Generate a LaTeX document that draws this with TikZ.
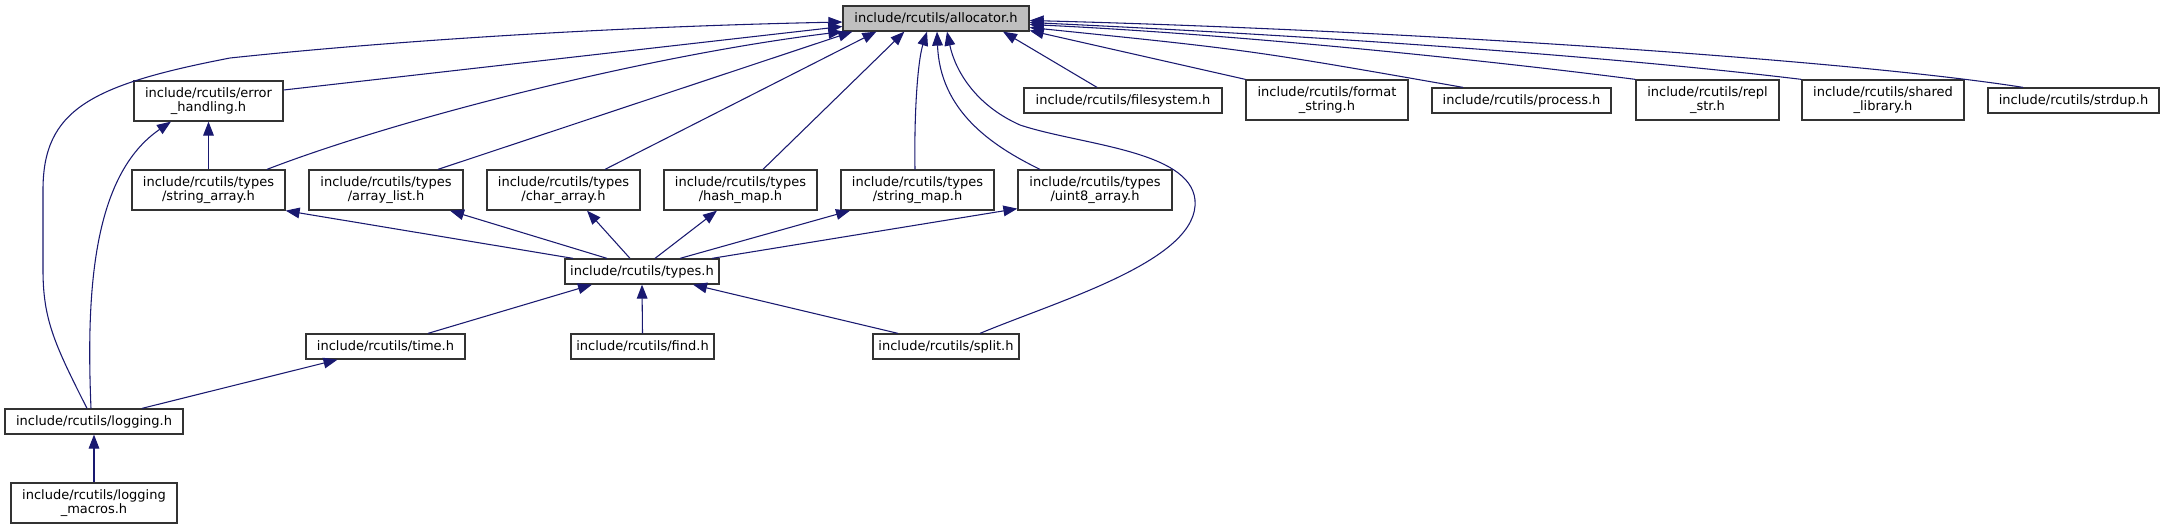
\documentclass[tikz,border=0pt]{standalone}
\usepackage{fontspec}
\newfontfamily\dvsans{DejaVu Sans}
\usetikzlibrary{arrows.meta,calc}
\definecolor{edgec}{HTML}{191970}
\definecolor{boxc}{HTML}{333333}
\definecolor{fillc}{HTML}{BFBFBF}
\begin{document}
\begin{tikzpicture}[x=0.75pt,y=-0.75pt,
  box/.style={draw=boxc,line width=0.95pt,inner sep=0pt,fill=white,
    font=\dvsans\fontsize{9.75}{10.5}\selectfont,align=center,
    minimum height=18.75pt,anchor=center},
  tall/.style={minimum height=30pt},
  edge/.style={draw=edgec,line width=0.8pt,-{Triangle[length=10.5pt,width=8pt]}}]
\fill[white] (0,0) rectangle (2165,529);
\useasboundingbox (0,0) rectangle (2165,529);
% nodes
\node[box,fill=fillc,minimum width=139.5pt] (alloc) at (936,18.5) {include/rcutils/allocator.h};
\node[box,tall,minimum width=111.75pt] (errh) at (208.5,101) {include/rcutils/error\\\_handling.h};
\node[box,tall,minimum width=114.75pt] (strarr) at (208.5,190) {include/rcutils/types\\/string\_array.h};
\node[box,tall,minimum width=115.5pt] (arrlist) at (386,190) {include/rcutils/types\\/array\_list.h};
\node[box,tall,minimum width=114.75pt] (chararr) at (563.5,190) {include/rcutils/types\\/char\_array.h};
\node[box,tall,minimum width=114.75pt] (hashmap) at (740.5,190) {include/rcutils/types\\/hash\_map.h};
\node[box,tall,minimum width=114.75pt] (strmap) at (917.5,190) {include/rcutils/types\\/string\_map.h};
\node[box,tall,minimum width=115.5pt] (uint8) at (1095,190) {include/rcutils/types\\/uint8\_array.h};
\node[box,minimum width=148.5pt] (fs) at (1123,100.5) {include/rcutils/filesystem.h};
\node[box,tall,minimum width=121.5pt] (fmt) at (1327,100) {include/rcutils/format\\\_string.h};
\node[box,minimum width=134.25pt] (proc) at (1521.5,100.5) {include/rcutils/process.h};
\node[box,tall,minimum width=107.25pt] (repl) at (1707.5,100) {include/rcutils/repl\\\_str.h};
\node[box,tall,minimum width=121.5pt] (shlib) at (1883,100) {include/rcutils/shared\\\_library.h};
\node[box,minimum width=128.25pt] (strdup) at (2073.5,100.5) {include/rcutils/strdup.h};
\node[box,minimum width=115.5pt] (types) at (642,271.5) {include/rcutils/types.h};
\node[box,minimum width=119.25pt] (time) at (385.5,346.5) {include/rcutils/time.h};
\node[box,minimum width=107.25pt] (find) at (642.5,346.5) {include/rcutils/find.h};
\node[box,minimum width=109.5pt] (split) at (946,346.5) {include/rcutils/split.h};
\node[box,minimum width=133.5pt] (logging) at (94,421.5) {include/rcutils/logging.h};
\node[box,tall,minimum width=124.5pt] (logmac) at (94,503) {include/rcutils/logging\\\_macros.h};
% edges
\draw[edge] (logmac.north) -- (logging.south);
\draw[edge] ($(logging.north)+(48,0)$) -- ($(time.south)+(-48,0)$);
\draw[edge] ($(time.north)+(42.5,0)$) -- ($(types.south)+(-50,0)$);
\draw[edge] (find.north) -- (types.south);
\draw[edge] ($(split.north)+(-48,0)$) -- ($(types.south)+(51,0)$);
\draw[edge] ($(types.north)+(-69,0)$) -- (strarr.south east);
\draw[edge] ($(types.north)+(-35,0)$) -- ($(arrlist.south)+(64,0)$);
\draw[edge] ($(types.north)+(-12,0)$) -- ($(chararr.south)+(23.5,0)$);
\draw[edge] ($(types.north)+(13,0)$) -- ($(hashmap.south)+(-23.5,0)$);
\draw[edge] ($(types.north)+(38,0)$) -- ($(strmap.south)+(-67.5,0)$);
\draw[edge] ($(types.north)+(70,0)$) -- ($(uint8.south west)+(0,-2)$);
\draw[edge] (strarr.north) -- (errh.south);
\draw[edge] ($(logging.north)+(-3,0)$) .. controls (86,290) and (93,175) .. ($(errh.south)+(-37.5,0)$);
\draw[edge] ($(logging.north)+(-7,0)$) .. controls (55,345) and (43,320) .. (43,270) -- (43,190)
  .. controls (43,110) and (90,85) .. (230,58) .. controls (380,42) and (600,27) .. ($(alloc.west)+(0,3.5)$);
\draw[edge] ($(errh.east)+(0,-11)$) -- ($(alloc.west)+(0,8)$);
\draw[edge] ($(strarr.north)+(58.5,0)$) .. controls (400,118) and (650,55) .. (alloc.south west);
\draw[edge] ($(arrlist.north)+(52,0)$) -- ($(alloc.south west)+(10,0)$);
\draw[edge] ($(chararr.north)+(41.5,0)$) -- ($(alloc.south west)+(34,0)$);
\draw[edge] ($(hashmap.north)+(22.5,0)$) -- ($(alloc.south west)+(62,0)$);
\draw[edge] ($(strmap.north)+(-2.5,0)$) .. controls (914,110) and (918,60) .. ($(alloc.south)+(-9,0)$);
\draw[edge] ($(uint8.north)+(-55,0)$) .. controls (990,145) and (940,110) .. ($(alloc.south)+(1,0)$);
\draw[edge] ($(split.north)+(34,0)$) .. controls (1060,300) and (1200,260) .. (1195,200)
  .. controls (1190,150) and (1080,145) .. (1020,125) .. controls (975,105) and (955,70) .. ($(alloc.south)+(11,0)$);
\draw[edge] ($(fs.north)+(-26,0)$) -- ($(alloc.south)+(67,0)$);
\draw[edge] (fmt.north west) -- ($(alloc.east)+(0,12)$);
\draw[edge] ($(proc.north)+(-58.5,0)$) .. controls (1250,50) .. ($(alloc.east)+(0,9)$);
\draw[edge] (repl.north west) .. controls (1500,62) and (1250,35) .. ($(alloc.east)+(0,6)$);
\draw[edge] (shlib.north west) .. controls (1600,55) and (1300,35) .. ($(alloc.east)+(0,4)$);
\draw[edge] ($(strdup.north)+(-50.5,0)$) .. controls (1850,60) and (1400,30) .. ($(alloc.east)+(0,2)$);
\end{tikzpicture}
\end{document}
